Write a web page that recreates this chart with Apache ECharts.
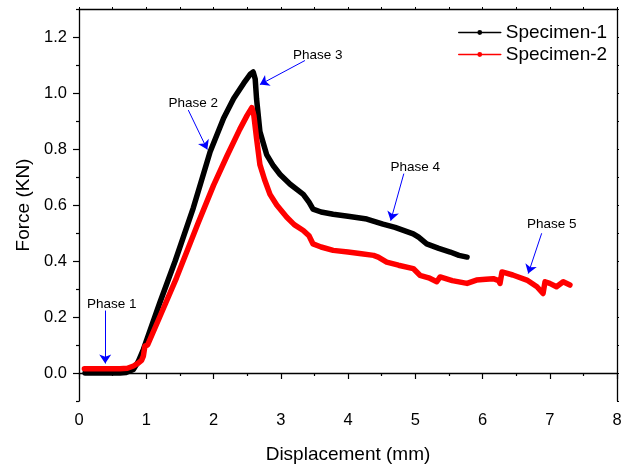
<!DOCTYPE html>
<html>
<head>
<meta charset="utf-8">
<script src="https://cdn.jsdelivr.net/npm/echarts@6/dist/echarts.min.js"></script>
<style>
html,body{margin:0;padding:0;background:#fff;}
#chart{width:629px;height:469px;}
</style>
</head>
<body>
<div id="chart"></div>
<script>
// ---- data ----
const seriesNames = ['Specimen-1', 'Specimen-2'];

const spec1X = [0.09,0.3,0.5,0.61,0.7,0.81,0.88,0.957,1.2,1.43,1.7,1.95,2.15,2.3,2.45,2.55,2.59,2.62,2.64,2.69,2.79,2.89,2.99,3.14,3.335,3.42,3.48,3.6,3.78,4.0,4.28,4.52,4.7,4.97,5.05,5.17,5.35,5.52,5.65,5.77];
const spec1Y = [0.0,0.0,0.0,0.0,0.002,0.013,0.04,0.084,0.25,0.4,0.59,0.79,0.91,0.98,1.035,1.068,1.075,1.05,0.98,0.862,0.78,0.74,0.709,0.674,0.638,0.61,0.585,0.575,0.567,0.56,0.55,0.532,0.52,0.497,0.485,0.461,0.445,0.432,0.42,0.414];

const spec2X = [0.08,0.3,0.5,0.61,0.72,0.81,0.88,0.93,0.957,0.98,1.02,1.2,1.45,1.77,2.0,2.2,2.39,2.5,2.57,2.6,2.64,2.69,2.76,2.84,2.94,3.09,3.2,3.335,3.42,3.48,3.6,3.78,4.0,4.2,4.38,4.45,4.575,4.75,4.97,5.07,5.2,5.32,5.37,5.55,5.77,5.91,6.05,6.16,6.24,6.26,6.29,6.45,6.66,6.81,6.90,6.93,7.0,7.10,7.20,7.30];
const spec2Y = [0.015,0.015,0.015,0.015,0.017,0.025,0.035,0.045,0.06,0.096,0.1,0.2,0.34,0.535,0.67,0.775,0.87,0.92,0.948,0.92,0.839,0.744,0.69,0.638,0.6,0.556,0.53,0.509,0.49,0.461,0.45,0.438,0.432,0.426,0.42,0.414,0.396,0.385,0.373,0.349,0.34,0.326,0.343,0.33,0.32,0.332,0.335,0.337,0.33,0.32,0.361,0.35,0.332,0.308,0.284,0.326,0.32,0.308,0.326,0.314];

const yLabelValues = [0, 0.2, 0.4, 0.6, 0.8, 1.0, 1.2];
const yMinorValues = [-0.1, 0.1, 0.3, 0.5, 0.7, 0.9, 1.1, 1.3];

const phaseLabels = ['Phase 1','Phase 2','Phase 3','Phase 4','Phase 5'];
const phaseTextX = [0.486, 1.70, 3.55, 5.00, 7.03];
const phaseTextY = [0.247, 0.963, 1.134, 0.736, 0.530];
const arrowFromX = [0.39, 1.625, 3.36, 4.83, 6.88];
const arrowFromY = [0.223, 0.939, 1.116, 0.712, 0.499];
const arrowToX = [0.39, 1.908, 2.69, 4.635, 6.68];
const arrowToY = [0.034, 0.798, 1.03, 0.544, 0.355];

// ---- build ----
const zip = (xs, ys) => xs.map((x, i) => [x, ys[i]]);
const FONT = '"Liberation Sans", Arial, sans-serif';

const chart = echarts.init(document.getElementById('chart'), null, {renderer: 'canvas'});

const axisLineStyle = {color: '#000', width: 1.3};

const option = {
  backgroundColor: '#fff',
  animation: false,
  grid: {left: 79, right: 12, top: 9, bottom: 63, containLabel: false},
  legend: {
    data: seriesNames,
    orient: 'vertical',
    left: 458,
    top: 23,
    padding: 0,
    itemWidth: 42,
    itemHeight: 6,
    itemGap: 3,
    textStyle: {fontFamily: FONT, fontSize: 19, color: '#000'},
    lineStyle: {width: 1.5}
  },
  xAxis: [{
    type: 'value', min: 0, max: 8, interval: 1,
    name: 'Displacement (mm)', nameLocation: 'middle', nameGap: 44,
    nameTextStyle: {fontFamily: FONT, fontSize: 19, color: '#000'},
    axisLine: {show: true, lineStyle: axisLineStyle},
    axisTick: {show: true, inside: false, length: 6, lineStyle: {color: '#000', width: 1.2}},
    minorTick: {show: true, splitNumber: 2, length: 3, lineStyle: {color: '#000', width: 1.2}},
    axisLabel: {fontFamily: FONT, fontSize: 16.5, color: '#000', margin: 11},
    splitLine: {show: false}
  }, {
    type: 'value', position: 'top', min: 0, max: 8, interval: 0.5,
    axisLine: {show: true, onZero: false, lineStyle: axisLineStyle},
    axisTick: {show: true, inside: false, length: 2, lineStyle: {color: '#000', width: 1}},
    axisLabel: {show: false},
    splitLine: {show: false}
  }],
  yAxis: [{
    type: 'value', min: -0.1, max: 1.3, interval: 0.1,
    name: 'Force (KN)', nameLocation: 'middle', nameGap: 34,
    nameTextStyle: {fontFamily: FONT, fontSize: 19, color: '#000'},
    axisLine: {show: true, onZero: false, lineStyle: axisLineStyle},
    axisTick: {show: true, inside: false, length: 6, customValues: yLabelValues, lineStyle: {color: '#000', width: 1.2}},
    axisLabel: {fontFamily: FONT, fontSize: 16.5, color: '#000', margin: 12, customValues: yLabelValues,
      formatter: v => v.toFixed(1)},
    splitLine: {show: false}
  }, {
    type: 'value', position: 'left', min: -0.1, max: 1.3, interval: 0.1,
    axisLine: {show: false, onZero: false},
    axisTick: {show: true, inside: false, length: 3, customValues: yMinorValues, lineStyle: {color: '#000', width: 1.2}},
    axisLabel: {show: false},
    splitLine: {show: false}
  }, {
    type: 'value', position: 'right', min: -0.1, max: 1.3, interval: 0.1,
    axisLine: {show: true, onZero: false, lineStyle: axisLineStyle},
    axisTick: {show: true, inside: false, length: 2, lineStyle: {color: '#000', width: 1}},
    axisLabel: {show: false},
    splitLine: {show: false}
  }],
  series: [{
    name: seriesNames[0], type: 'line', xAxisIndex: 0, yAxisIndex: 0,
    data: zip(spec1X, spec1Y),
    symbol: 'circle', symbolSize: 4, showSymbol: false,
    itemStyle: {color: '#000'},
    lineStyle: {color: '#000', width: 5.5, join: 'round', cap: 'round'},
    z: 2
  }, {
    name: seriesNames[1], type: 'line', xAxisIndex: 0, yAxisIndex: 0,
    data: zip(spec2X, spec2Y),
    symbol: 'circle', symbolSize: 4, showSymbol: false,
    itemStyle: {color: '#ff0000'},
    lineStyle: {color: '#ff0000', width: 5.5, join: 'round', cap: 'round'},
    z: 3
  }, {
    name: 'annotations', type: 'scatter', xAxisIndex: 0, yAxisIndex: 0,
    data: [],
    silent: true,
    z: 5,
    markLine: {
      silent: true,
      symbol: ['none', 'arrow'],
      symbolSize: 9,
      lineStyle: {color: '#0000ff', width: 1, type: 'solid'},
      itemStyle: {color: '#0000ff'},
      label: {show: false},
      data: phaseLabels.map((_, i) => [
        {coord: [arrowFromX[i], arrowFromY[i]]},
        {coord: [arrowToX[i], arrowToY[i]]}
      ])
    },
    markPoint: {
      silent: true,
      symbol: 'circle',
      symbolSize: 0,
      label: {show: true, position: 'inside', fontFamily: FONT, fontSize: 13.5, color: '#000',
        formatter: p => p.name},
      data: phaseLabels.map((name, i) => ({name: name, coord: [phaseTextX[i], phaseTextY[i]]}))
    }
  }]
};

chart.setOption(option);
</script>
</body>
</html>
